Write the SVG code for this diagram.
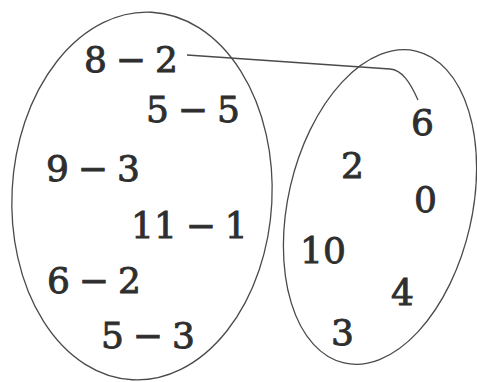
<svg xmlns="http://www.w3.org/2000/svg" width="477" height="382" viewBox="0 0 477 382">
<style>
.set{fill:none;stroke:#4a4a4a;stroke-width:1.3}
.conn{fill:none;stroke:#4a4a4a;stroke-width:1.3}
text{font-family:"DejaVu Serif","Liberation Serif",serif;font-size:36px;fill:#2e2e2e;stroke:#2e2e2e;stroke-width:0.9;word-spacing:-2.5px}
</style>
<rect width="477" height="382" fill="#fff"/>
<g id="setA">
<ellipse class="set" cx="142" cy="196" rx="130" ry="184" transform="rotate(3 142 196)"/>
<text x="84" y="72">8 − 2</text>
<text x="146" y="122">5 − 5</text>
<text x="46" y="181">9 − 3</text>
<text x="131" y="238">11 − 1</text>
<text x="47" y="293">6 − 2</text>
<text x="101" y="348">5 − 3</text>
</g>
<g id="setB">
<ellipse class="set" cx="380" cy="207" rx="92" ry="160" transform="rotate(13 380 207)"/>
<text x="411" y="135">6</text>
<text x="341" y="178">2</text>
<text x="414" y="212">0</text>
<text x="300" y="263">10</text>
<text x="391" y="305">4</text>
<text x="331" y="345">3</text>
</g>
<g id="connectors">
<path class="conn" d="M187 55 L390 69 C402 70 410 82 418 100"/>
</g>
</svg>
